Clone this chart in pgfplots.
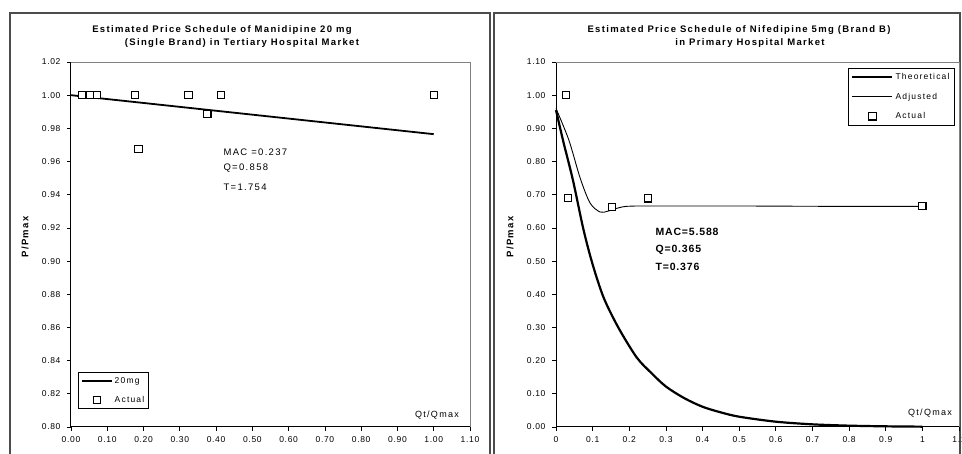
\documentclass[border=0pt]{standalone}
\usepackage{fontspec}
\setmainfont{Liberation Sans}
\newfontfamily\wide[LetterSpace=14]{Liberation Sans}
\newfontfamily\widem[LetterSpace=8]{Liberation Sans}
\usepackage{pgfplots}
\pgfplotsset{compat=1.18}
\pgfplotsset{myax/.style={
  scale only axis, clip=false,
  axis x line*=bottom, axis y line*=left,
  tick align=outside, major tick length=4pt,
  tick style={black, line width=0.8pt},
  axis line style={black, line width=1pt},
  ticklabel style={font=\widem\fontsize{8.5}{10}\selectfont},
  /pgf/number format/assume math mode=true,
  xticklabel style={yshift=-2pt},
  yticklabel style={xshift=-3pt},
  legend cell align=left,
},
legLineA/.style={legend image code/.code={\draw[##1] (-2pt,0) -- (28pt,0);}},
legLineB/.style={legend image code/.code={\draw[##1] (-4pt,0) -- (36pt,0);}},
legMarkA/.style={legend image code/.code={\draw[##1, mark repeat=2, mark phase=2] plot coordinates {(0pt,0pt)(13pt,0pt)(26pt,0pt)};}},
legMarkB/.style={legend image code/.code={\draw[##1, mark repeat=2, mark phase=2] plot coordinates {(0pt,0pt)(16pt,0pt)(32pt,0pt)};}},
}
\begin{document}
\begin{tikzpicture}
\useasboundingbox (0pt,0pt) rectangle (962pt,454pt);
\draw[line width=1.2pt, black!70] (10pt,0pt) -- (10pt,441pt) -- (490pt,441pt) -- (490pt,0pt);
\draw[line width=1.2pt, black!70] (494pt,0pt) -- (494pt,441pt) -- (960pt,441pt) -- (960pt,0pt);
% titles
\node[font=\wide\bfseries\fontsize{9.5}{10}\selectfont] at (222pt,424pt) {Estimated Price Schedule of Manidipine 20 mg};
\node[font=\wide\bfseries\fontsize{9.5}{10}\selectfont] at (242pt,411pt) {(Single Brand) in Tertiary Hospital Market};
\node[font=\wide\bfseries\fontsize{9.5}{10}\selectfont] at (739pt,424pt) {Estimated Price Schedule of Nifedipine 5mg (Brand B)};
\node[font=\wide\bfseries\fontsize{9.5}{10}\selectfont] at (750pt,411pt) {in Primary Hospital Market};
% y labels
\node[rotate=90, font=\wide\bfseries\fontsize{9.5}{10}\selectfont] at (25pt,217pt) {P/Pmax};
\node[rotate=90, font=\wide\bfseries\fontsize{9.5}{10}\selectfont] at (510pt,217pt) {P/Pmax};
% x labels
\node[font=\wide\fontsize{9}{10}\selectfont] at (437pt,39pt) {Qt/Qmax};
\node[font=\wide\fontsize{9}{10}\selectfont] at (930pt,41pt) {Qt/Qmax};
% annotations
\node[anchor=west, font=\wide\fontsize{9.5}{10}\selectfont] at (220pt,302pt) {MAC =0.237};
\node[anchor=west, font=\wide\fontsize{9.5}{10}\selectfont] at (220pt,286pt) {Q=0.858};
\node[anchor=west, font=\wide\fontsize{9.5}{10}\selectfont] at (220pt,267pt) {T=1.754};
\node[anchor=west, font=\widem\bfseries\fontsize{10.5}{11}\selectfont] at (652pt,222pt) {MAC=5.588};
\node[anchor=west, font=\widem\bfseries\fontsize{10.5}{11}\selectfont] at (652pt,204pt) {Q=0.365};
\node[anchor=west, font=\widem\bfseries\fontsize{10.5}{11}\selectfont] at (652pt,187pt) {T=0.376};

\begin{axis}[myax,
  at={(71pt,27pt)}, anchor=south west, width=399pt, height=365pt,
  xmin=0, xmax=1.1, ymin=0.8, ymax=1.02,
  xtick={0,0.1,0.2,0.3,0.4,0.5,0.6,0.7,0.8,0.9,1.0,1.1},
  ytick={0.80,0.82,0.84,0.86,0.88,0.90,0.92,0.94,0.96,0.98,1.00,1.02},
  xticklabel style={/pgf/number format/.cd, fixed, fixed zerofill, precision=2},
  yticklabel style={/pgf/number format/.cd, fixed, fixed zerofill, precision=2},
  legend style={at={(rel axis cs:0.0175,0.049)}, anchor=south west, draw=black, line width=0.9pt,
    font=\wide\fontsize{8.5}{9}\selectfont, row sep=8pt, inner sep=2.5pt},
]
\draw[gray, line width=0.6pt] (rel axis cs:0,1) -- (rel axis cs:1,1) -- (rel axis cs:1,0);
\addplot[black, line width=1.8pt, legLineA]
  coordinates {(0,1.0) (1.0,0.9765)};
\addlegendentry{20mg}
\addplot[only marks, mark=square*, mark size=3.6pt, mark options={fill=white, draw=black, line width=1.1pt}, legMarkA]
  coordinates {(0.03,1.0) (0.052,1.0) (0.072,1.0) (0.177,1.0) (0.186,0.9675) (0.324,1.0) (0.376,0.9886) (0.414,1.0) (1.0,1.0)};
\addlegendentry{Actual}
\end{axis}

\begin{axis}[myax,
  at={(556pt,27pt)}, anchor=south west, width=403pt, height=365pt,
  xmin=0, xmax=1.1, ymin=0, ymax=1.1,
  xtick={0,0.1,0.2,0.3,0.4,0.5,0.6,0.7,0.8,0.9,1,1.1},
  ytick={0,0.1,0.2,0.3,0.4,0.5,0.6,0.7,0.8,0.9,1.0,1.1},
  yticklabel style={/pgf/number format/.cd, fixed, fixed zerofill, precision=2},
  legend style={at={(rel axis cs:0.99,0.984)}, anchor=north east, draw=black, line width=0.9pt,
    font=\wide\fontsize{8.5}{9}\selectfont, row sep=8pt, inner sep=3pt},
]
\draw[gray, line width=0.6pt] (rel axis cs:0,1) -- (rel axis cs:1,1) -- (rel axis cs:1,0);
\addplot[black, line width=2.2pt, smooth, legLineB]
  coordinates {(0,0.955) (0.02,0.86) (0.046,0.745) (0.075,0.595) (0.1,0.49) (0.13,0.39) (0.17,0.30)
  (0.22,0.21) (0.26,0.163) (0.30,0.122) (0.35,0.087) (0.40,0.061) (0.45,0.044) (0.50,0.031)
  (0.60,0.016) (0.70,0.008) (0.80,0.004) (0.90,0.002) (1.00,0.001)};
\addlegendentry{Theoretical}
\addplot[black, line width=0.9pt, smooth, legLineB]
  coordinates {(0,0.96) (0.035,0.865) (0.066,0.75) (0.093,0.675) (0.12,0.648) (0.14,0.650) (0.166,0.659)
  (0.193,0.665) (0.25,0.666) (0.5,0.666) (0.75,0.665) (1.0,0.665)};
\addlegendentry{Adjusted}
\addplot[only marks, mark=square*, mark size=3.6pt, mark options={fill=white, draw=black, line width=1.1pt}, legMarkB]
  coordinates {(0.027,1.00) (0.033,0.69) (0.152,0.664) (0.252,0.689) (1.0,0.665)};
\addlegendentry{Actual}
\end{axis}
\end{tikzpicture}
\end{document}
